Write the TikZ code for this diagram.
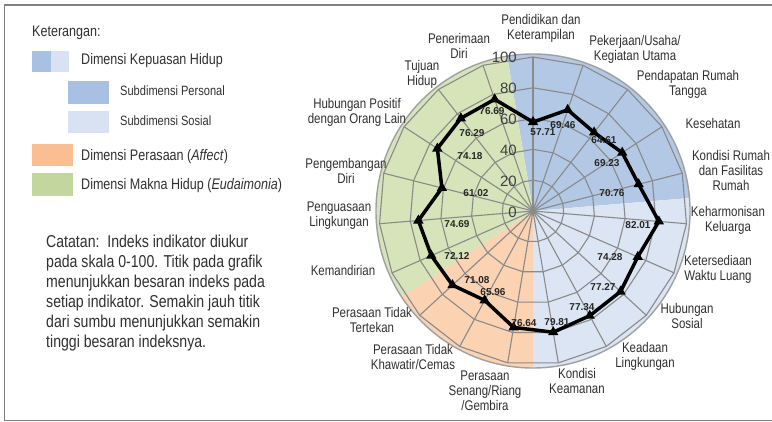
\documentclass[tikz,border=0pt]{standalone}
\usepackage{fontspec}
\setmainfont{Liberation Sans}[FakeStretch=0.82]
\newfontfamily\valfont{Liberation Sans}
\usetikzlibrary{shapes.geometric,calc}
\definecolor{persC}{HTML}{B3C8E5}
\definecolor{sosC}{HTML}{DCE5F3}
\definecolor{affC}{HTML}{FBD2B2}
\definecolor{eudC}{HTML}{D7E4BA}
\definecolor{persL}{HTML}{A8C0E2}
\definecolor{sosL}{HTML}{D9E2F3}
\definecolor{affL}{HTML}{F9BF92}
\definecolor{eudL}{HTML}{C3D69D}
\definecolor{gridC}{HTML}{8A8A8A}
\definecolor{rimC}{HTML}{A0A0A0}
\definecolor{txt}{HTML}{303030}
\definecolor{valC}{HTML}{262626}
\definecolor{sclC}{HTML}{404040}
\definecolor{frameC}{HTML}{808080}
\tikzset{
  lbl/.style={font=\fontsize{14}{15}\selectfont, text=txt, align=center, inner sep=0pt},
  leg/.style={font=\fontsize{15.3}{17}\selectfont, text=txt, anchor=west, inner sep=0pt},
  legsub/.style={font=\fontsize{13.5}{15}\selectfont, text=txt, anchor=west, inner sep=0pt},
  val/.style={font=\valfont\bfseries\fontsize{10}{11}\selectfont, text=valC, inner sep=0pt},
  scl/.style={font=\valfont\fontsize{15}{16}\selectfont, text=sclC, anchor=east, inner sep=0pt},
  gridline/.style={draw=gridC, line width=1.1pt},
  dataline/.style={draw=black, line width=3.5pt, line join=round},
  marker/.style={regular polygon, regular polygon sides=3, fill=black, inner sep=0pt, minimum size=12pt},
}
\begin{document}
\begin{tikzpicture}[x=1pt,y=-1pt]
\useasboundingbox (0,0) rectangle (772,422);
\fill[white] (0,0) rectangle (772,422);
% frame
\draw[frameC, line width=1.5pt] (772,5) -- (4.5,5) -- (4.5,420.5) -- (772,420.5);

% ---------- legend ----------
\node[leg] (ket) at (32,33) {Keterangan:};
\fill[persL] (32,51) rectangle (51,72);
\fill[sosL] (51,51) rectangle (69,72);
\node[leg] (lkh) at (81,61) {Dimensi Kepuasan Hidup};
\fill[persL] (68,81) rectangle (109,104);
\node[legsub] (lsp) at (120,91) {Subdimensi Personal};
\fill[sosL] (68,111) rectangle (109,133);
\node[legsub] (lss) at (120,121) {Subdimensi Sosial};
\fill[affL] (32,144) rectangle (73,166);
\node[leg] (lpa) at (81,157) {Dimensi Perasaan (\textit{Affect})};
\fill[eudL] (32,173) rectangle (73,196);
\node[leg] (lmh) at (81,186) {Dimensi Makna Hidup (\textit{Eudaimonia})};

\node[font=\fontsize{17.2}{20}\selectfont, text=txt, align=left, anchor=west, inner sep=0pt] (cat) at (46,293)
 {Catatan:\ \ Indeks indikator diukur\\pada skala 0-100. Titik pada grafik\\menunjukkan besaran indeks pada\\setiap indikator. Semakin jauh titik\\dari sumbu menunjukkan semakin\\tinggi besaran indeksnya.};

% ---------- radar chart ----------
\begin{scope}[shift={(533,211)}]
  \fill[persC] (0,0) -- (99.47:157pt) arc[start angle=99.47, end angle=4.74, radius=157pt] -- cycle;
  \fill[sosC] (0,0) -- (4.74:157pt) arc[start angle=4.74, end angle=-90, radius=157pt] -- cycle;
  \fill[affC] (0,0) -- (-90:157pt) arc[start angle=-90, end angle=-146.84, radius=157pt] -- cycle;
  \fill[eudC] (0,0) -- (-146.84:157pt) arc[start angle=-146.84, end angle=-260.53, radius=157pt] -- cycle;
  \draw[rimC, line width=1.4pt] (0,0) circle[radius=157pt];
  \foreach \v in {20,40,60,80,100}{
    \pgfmathsetmacro\rr{\v*1.54}
    \draw[gridline] (90:\rr pt) \foreach \k in {1,...,18}{ -- (90-\k*18.947:\rr pt)} -- cycle;
  }
  \foreach \k in {0,...,18}{
    \draw[gridline] (0,0) -- (90-\k*18.947:154pt);
  }
  \foreach \v [count=\k from 0] in {57.71,69.46,64.61,69.23,70.76,82.01,74.28,77.27,77.34,79.81,76.64,65.96,71.08,72.12,74.69,61.02,74.18,76.29,76.69}{
    \pgfmathsetmacro\rr{\v*1.54}
    \coordinate (p\k) at (90-\k*18.947:\rr pt);
  }
  \draw[dataline] (p0) -- (p1) -- (p2) -- (p3) -- (p4) -- (p5) -- (p6) -- (p7) -- (p8) -- (p9) -- (p10) -- (p11) -- (p12) -- (p13) -- (p14) -- (p15) -- (p16) -- (p17) -- (p18) -- cycle;
  \foreach \k in {0,...,18}{
    \node[marker] (m\k) at (p\k) {};
  }
\end{scope}

% scale labels
\node[scl] (s100) at (517,57) {100};
\node[scl] (s80) at (517,88) {80};
\node[scl] (s60) at (517,119) {60};
\node[scl] (s40) at (517,150) {40};
\node[scl] (s20) at (517,181) {20};
\node[scl] (s0) at (517,212) {0};

% value labels
\node[val] (v0) at (543,132) {57.71};
\node[val] (v1) at (563,125) {69.46};
\node[val] (v2) at (604,140) {64.61};
\node[val] (v3) at (607,163) {69.23};
\node[val] (v4) at (612,193) {70.76};
\node[val] (v5) at (638,225) {82.01};
\node[val] (v6) at (610,257) {74.28};
\node[val] (v7) at (603,287) {77.27};
\node[val] (v8) at (582,307) {77.34};
\node[val] (v9) at (557,322) {79.81};
\node[val] (v10) at (524,323) {76.64};
\node[val] (v11) at (493,292) {65.96};
\node[val] (v12) at (477,280) {71.08};
\node[val] (v13) at (457,256) {72.12};
\node[val] (v14) at (457,224) {74.69};
\node[val] (v15) at (476,193) {61.02};
\node[val] (v16) at (470,156) {74.18};
\node[val] (v17) at (472,133) {76.29};
\node[val] (v18) at (492,111) {76.69};

% axis labels
\node[lbl] (a0) at (541,28) {Pendidikan dan\\Keterampilan};
\node[lbl] (a1) at (635,49) {Pekerjaan/Usaha/\\Kegiatan Utama};
\node[lbl] (a2) at (688,84) {Pendapatan Rumah\\Tangga};
\node[lbl] (a3) at (713,123) {Kesehatan};
\node[lbl] (a4) at (731,170) {Kondisi Rumah\\dan Fasilitas\\Rumah};
\node[lbl] (a5) at (728,220) {Keharmonisan\\Keluarga};
\node[lbl] (a6) at (718,269.5) {Ketersediaan\\Waktu Luang};
\node[lbl] (a7) at (687,315.5) {Hubungan\\Sosial};
\node[lbl] (a8) at (645,356.5) {Keadaan\\Lingkungan};
\node[lbl] (a9) at (577,381) {Kondisi\\Keamanan};
\node[lbl] (a10) at (485,391) {Perasaan\\Senang/Riang\\/Gembira};
\node[lbl] (a11) at (413,356.5) {Perasaan Tidak\\Khawatir/Cemas};
\node[lbl] (a12) at (372,320) {Perasaan Tidak\\Tertekan};
\node[lbl] (a13) at (343,270) {Kemandirian};
\node[lbl] (a14) at (339,216) {Penguasaan\\Lingkungan};
\node[lbl] (a15) at (346,171) {Pengembangan\\Diri};
\node[lbl] (a16) at (357,112.5) {Hubungan Positif\\dengan Orang Lain};
\node[lbl] (a17) at (422,74) {Tujuan\\Hidup};
\node[lbl] (a18) at (459,46) {Penerimaan\\Diri};
\end{tikzpicture}
\end{document}
